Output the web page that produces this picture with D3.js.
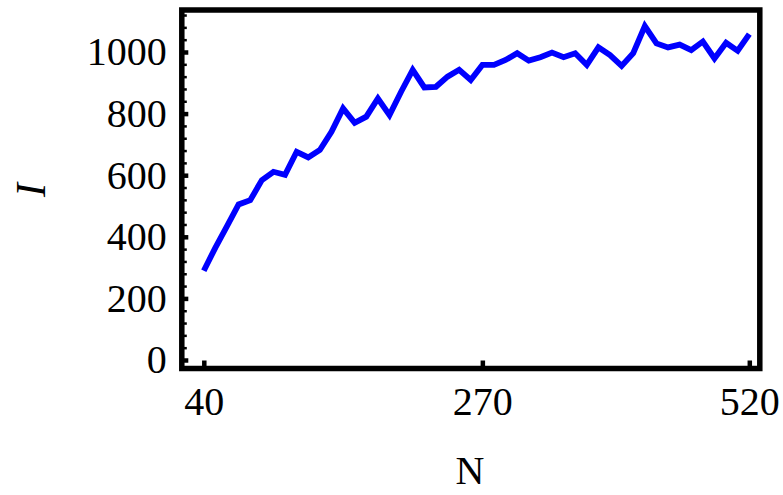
<!DOCTYPE html>
<html>
<head>
<meta charset="utf-8">
<script src="https://cdn.jsdelivr.net/npm/d3@7"></script>
<style>
  html, body { margin: 0; padding: 0; background: #fff; }
  svg { display: block; }
</style>
</head>
<body>
<svg id="chart" width="783" height="495"></svg>
<script>
// ---- data ----
const pointIndex = d3.range(1, 49); // 48 samples, plotted by index
const intensity = [290, 365, 435, 505, 519, 584, 611, 601, 676, 658,
                   682, 741, 817, 770, 790, 849, 795, 871, 942, 885,
                   887, 920, 942, 909, 958, 958, 974, 996, 972, 983,
                   998, 983, 996, 958, 1015, 990, 955, 996, 1084, 1028,
                   1015, 1024, 1006, 1034, 979, 1030, 1004, 1058];
const xTickIndex = [1, 25, 48];
const xTickLabels = ["40", "270", "520"];
const yMajorTicks = [0, 200, 400, 600, 800, 1000];
const yMinorTicks = d3.range(0, 1121, 40).filter(v => v % 200 !== 0);
const xTitle = "N";
const yTitle = "I";

// ---- layout ----
const svg = d3.select("#chart");
const frame = { left: 181.8, right: 759.8, top: 10, bottom: 368.5 };
const x = d3.scaleLinear().domain([1, 48]).range([203.8, 749.3]);
const y = d3.scaleLinear().domain([0, 1000]).range([360, 52]);
const font = "'Liberation Serif', 'Times New Roman', serif";

// line
const line = d3.line().x((d, i) => x(pointIndex[i])).y(d => y(d));
svg.append("path")
  .datum(intensity)
  .attr("d", line)
  .attr("fill", "none")
  .attr("stroke", "#0000ff")
  .attr("stroke-width", 5.8)
  .attr("stroke-linejoin", "miter")
  .attr("stroke-miterlimit", 4);

// frame
svg.append("rect")
  .attr("x", frame.left).attr("y", frame.top)
  .attr("width", frame.right - frame.left)
  .attr("height", frame.bottom - frame.top)
  .attr("fill", "none")
  .attr("stroke", "#000")
  .attr("stroke-width", 5.5);

// y minor ticks
const yMinor = svg.append("g")
  .attr("transform", `translate(${frame.left},0)`)
  .call(d3.axisLeft(y).tickValues(yMinorTicks).tickSize(-5).tickFormat(""));
yMinor.select(".domain").remove();
yMinor.selectAll("line").attr("stroke", "#000").attr("stroke-width", 2.5);

// y major ticks
const yAxis = svg.append("g")
  .attr("transform", `translate(${frame.left},0)`)
  .call(d3.axisLeft(y).tickValues(yMajorTicks).tickSize(-6.5).tickPadding(15).tickFormat(d3.format("d")));
yAxis.select(".domain").remove();
yAxis.selectAll("line").attr("stroke", "#000").attr("stroke-width", 4.5);
yAxis.selectAll("text")
  .attr("font-family", font).attr("font-size", 40).attr("fill", "#000");

// x ticks
const xAxis = svg.append("g")
  .attr("transform", `translate(0,${frame.bottom})`)
  .call(d3.axisBottom(x).tickValues(xTickIndex).tickSize(-8).tickPadding(18)
        .tickFormat((d, i) => xTickLabels[i]));
xAxis.select(".domain").remove();
xAxis.selectAll("line").attr("stroke", "#000").attr("stroke-width", 4.5);
xAxis.selectAll("text")
  .attr("font-family", font).attr("font-size", 40).attr("fill", "#000");

// titles
svg.append("text")
  .attr("x", 470).attr("y", 484)
  .attr("text-anchor", "middle")
  .attr("font-family", font).attr("font-size", 40)
  .text(xTitle);

svg.append("text")
  .attr("transform", "translate(31,190) rotate(-90)")
  .attr("text-anchor", "middle")
  .attr("dominant-baseline", "central")
  .attr("font-family", font).attr("font-size", 42)
  .attr("font-style", "italic")
  .text(yTitle);
</script>
</body>
</html>
